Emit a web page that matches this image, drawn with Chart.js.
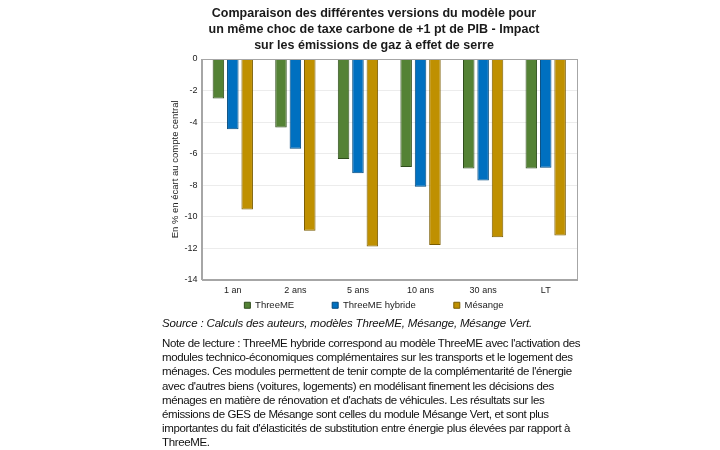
<!DOCTYPE html>
<html>
<head>
<meta charset="utf-8">
<script src="https://cdn.jsdelivr.net/npm/chart.js@4.4.0/dist/chart.umd.min.js"></script>
<style>
    body { margin: 0; background: #fff; width: 720px; height: 450px; position: relative; overflow: hidden; }
    #wrap { position: absolute; left: 160px; top: 0; width: 425px; height: 320px; }
    .txt { position: absolute; left: 162px; font-family: 'Liberation Sans', Arial, sans-serif; font-size: 11.5px; color: #111; white-space: nowrap; }
    #source { top: 317px; font-style: italic; letter-spacing: -0.17px; }
    #note { top: 336px; line-height: 14.2px; letter-spacing: -0.37px; }
</style>
</head>
<body>
<div id="wrap"><canvas id="ghgChart"></canvas></div>
<div class="txt" id="source">Source : Calculs des auteurs, modèles ThreeME, Mésange, Mésange Vert.</div>
<div class="txt" id="note">Note de lecture : ThreeME hybride correspond au modèle ThreeME avec l'activation des<br>modules technico-économiques complémentaires sur les transports et le logement des<br>ménages. Ces modules permettent de tenir compte de la complémentarité de l'énergie<br>avec d'autres biens (voitures, logements) en modélisant finement les décisions des<br>ménages en matière de rénovation et d'achats de véhicules. Les résultats sur les<br>émissions de GES de Mésange sont celles du module Mésange Vert, et sont plus<br>importantes du fait d'élasticités de substitution entre énergie plus élevées par rapport à<br>ThreeME.</div>
<script>
// Data
const horizons = ['1 an', '2 ans', '5 ans', '10 ans', '30 ans', 'LT'];
const threeME = [-2.5, -4.35, -6.35, -6.85, -6.95, -6.95];
const threeMEHybride = [-4.45, -5.7, -7.25, -8.1, -7.7, -6.9];
const mesange = [-9.55, -10.9, -11.9, -11.8, -11.3, -11.2];

const titleLines = [
    'Comparaison des différentes versions du modèle pour',
    'un même choc de taxe carbone de +1 pt de PIB - Impact',
    'sur les émissions de gaz à effet de serre'
];

const font = 'Liberation Sans, Arial, sans-serif';

// Draws a frame around the plot area
const frameBox = {
    id: 'frameBox',
    afterDatasetsDraw(chart) {
        const a = chart.chartArea;
        const ctx = chart.ctx;
        ctx.save();
        ctx.strokeStyle = '#a6a6a6';
        ctx.lineWidth = 1;
        ctx.strokeRect(Math.round(a.left) + 0.5, Math.round(a.top) + 0.5,
            Math.round(a.right - a.left), Math.round(a.bottom - a.top));
        ctx.restore();
    }
};

new Chart(document.getElementById('ghgChart'), {
    type: 'bar',
    data: {
        labels: horizons,
        datasets: [
            {
                label: 'ThreeME',
                data: threeME,
                backgroundColor: '#548235',
                borderColor: '#2f4d1c',
                borderWidth: 1
            },
            {
                label: 'ThreeME hybride',
                data: threeMEHybride,
                backgroundColor: '#0070c0',
                borderColor: '#00487c',
                borderWidth: 1
            },
            {
                label: 'Mésange',
                data: mesange,
                backgroundColor: '#bf9000',
                borderColor: '#7a5c00',
                borderWidth: 1
            }
        ]
    },
    options: {
        responsive: true,
        maintainAspectRatio: false,
        animation: false,
        layout: { padding: { right: 8, left: 11, top: 0, bottom: 0 } },
        datasets: {
            bar: { categoryPercentage: 0.69, barPercentage: 0.8 }
        },
        plugins: {
            title: {
                display: true,
                text: titleLines,
                color: '#1a1a1a',
                font: { family: font, size: 12.5, weight: 'bold', lineHeight: 1.28 },
                padding: { top: 6, bottom: 5 }
            },
            legend: {
                position: 'bottom',
                labels: {
                    boxWidth: 6,
                    boxHeight: 6,
                    padding: 0,
                    color: '#222',
                    font: { family: font, size: 9.5, lineHeight: 1 },
                    // widen the gap between items like the original legend
                    generateLabels(chart) {
                        const items = Chart.defaults.plugins.legend.labels.generateLabels(chart);
                        items.forEach((it, i) => {
                            if (i < items.length - 1) it.text = it.text + '\u2003\u2003\u2003\u2003';
                        });
                        return items;
                    }
                }
            },
            tooltip: { enabled: false }
        },
        scales: {
            x: {
                grid: { display: false, drawTicks: false },
                border: { color: '#a6a6a6' },
                ticks: { color: '#222', font: { family: font, size: 9 }, padding: 5 }
            },
            y: {
                min: -14,
                max: 0,
                ticks: { stepSize: 2, color: '#222', font: { family: font, size: 9 }, padding: 4 },
                grid: { color: '#ececec', drawTicks: false },
                border: { color: '#a6a6a6' },
                title: {
                    display: true,
                    text: 'En % en écart au compte central',
                    color: '#222',
                    font: { family: font, size: 9.5, lineHeight: 1 },
                    padding: { top: 0, bottom: 0 }
                }
            }
        }
    },
    plugins: [frameBox]
});
</script>
</body>
</html>
